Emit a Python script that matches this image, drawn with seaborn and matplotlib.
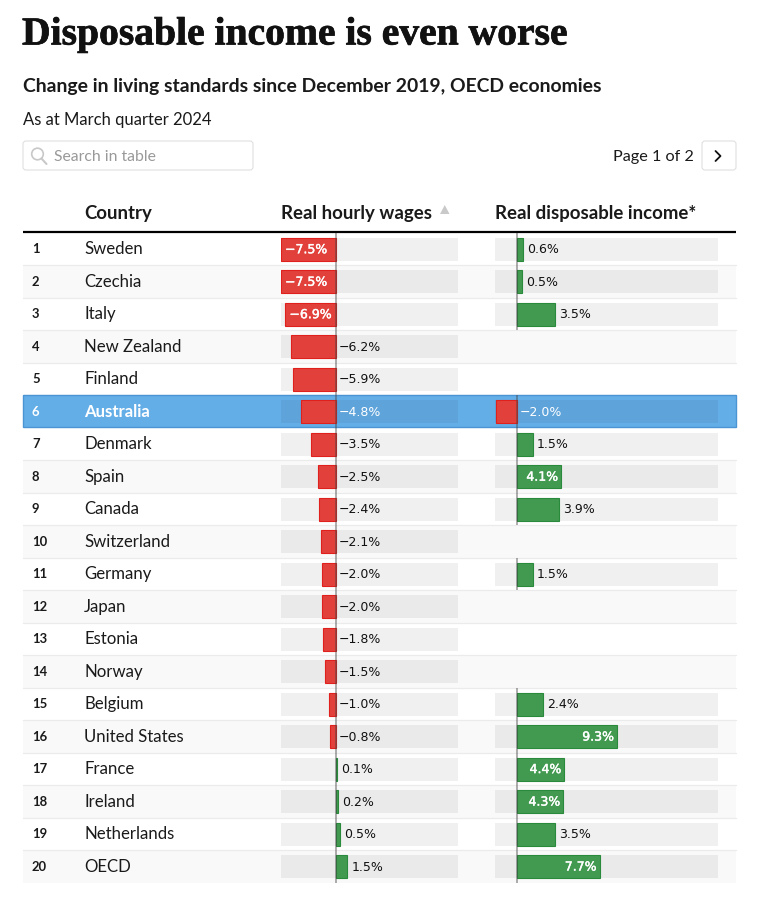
import numpy as np
import pandas as pd
import matplotlib
matplotlib.use("Agg")
import matplotlib.pyplot as plt
import matplotlib.patheffects as pe
from matplotlib.patches import Rectangle, FancyBboxPatch, Circle
import seaborn as sns

countries = ["Sweden", "Czechia", "Italy", "New Zealand", "Finland", "Australia", "Denmark",
             "Spain", "Canada", "Switzerland", "Germany", "Japan", "Estonia", "Norway",
             "Belgium", "United States", "France", "Ireland", "Netherlands", "OECD"]
wages = [-7.5, -7.5, -6.9, -6.2, -5.9, -4.8, -3.5, -2.5, -2.4, -2.1,
         -2.0, -2.0, -1.8, -1.5, -1.0, -0.8, 0.1, 0.2, 0.5, 1.5]
income = [0.6, 0.5, 3.5, np.nan, np.nan, -2.0, 1.5, 4.1, 3.9, np.nan,
          1.5, np.nan, np.nan, np.nan, 2.4, 9.3, 4.4, 4.3, 3.5, 7.7]

W, H = 767, 900
ROW_TOP, ROW_H = 233, 32.49
HIGHLIGHT = "Australia"
TEXT = "#1a1a1a"
RED, RED_EDGE = "#e2413b", "#e0201c"
GREEN, GREEN_EDGE = "#429a50", "#2a8a3c"

sns.set_theme(style="white")
plt.rcParams["font.family"] = ["Lato", "DejaVu Sans"]

df = pd.DataFrame({"country": countries, "wages": wages, "income": income})


def px(size):
    return size * 72 / 100


fig = plt.figure(figsize=(W / 100, H / 100), dpi=100, facecolor="white")

# 背景层，用像素坐标
bg = fig.add_axes([0, 0, 1, 1])
bg.set_xlim(0, W)
bg.set_ylim(H, 0)
bg.axis("off")

title = bg.text(22, 35, "Disposable income is even worse", family="Liberation Serif", weight="bold",
                fontsize=px(39.6), color="#111111", va="center")
title.set_path_effects([pe.withStroke(linewidth=0.5, foreground="#111111")])
bg.text(23, 86.5, "Change in living standards since December 2019, OECD economies", weight="bold",
        fontsize=px(19.4), color=TEXT, va="center")
bg.text(23, 120, "As at March quarter 2024", fontsize=px(16.6), color=TEXT, va="center")

# 搜索框和翻页
bg.add_patch(FancyBboxPatch((23, 141), 230, 29, boxstyle="round,pad=0,rounding_size=3",
                            fc="white", ec="#e0e0e0", lw=0.8))
bg.add_patch(Circle((37.5, 154), 5.8, fc="none", ec="#c8c8c8", lw=1.2))
bg.plot([41.5, 46.5], [158.5, 164], color="#c8c8c8", lw=1.5)
bg.text(54, 157, "Search in table", fontsize=px(15.7), color="#999999", va="center")
bg.text(694, 157, "Page 1 of 2", fontsize=px(16.2), color=TEXT, va="center", ha="right")
bg.add_patch(FancyBboxPatch((702, 141), 34, 29, boxstyle="round,pad=0,rounding_size=3",
                            fc="white", ec="#e0e0e0", lw=0.8))
bg.plot([715.5, 720.5, 715.5], [151, 156, 161], color="#111111", lw=1.3)

# 表头
for x, label in [(84, "Country"), (281, "Real hourly wages"), (495, "Real disposable income*")]:
    bg.text(x, 213, label, weight="bold", fontsize=px(18.7), color=TEXT, va="center")
bg.fill([440, 449.5, 444.75], [214, 214, 205], color="#c9c9c9", lw=0)
bg.plot([23, 736], [232, 232], color="#000000", lw=1.6, solid_capstyle="butt")

# 行背景和文字
for i, name in enumerate(countries):
    top = ROW_TOP + i * ROW_H
    mid = top + ROW_H / 2
    on = name == HIGHLIGHT
    if on:
        bg.add_patch(Rectangle((23, top - 0.5), 713, ROW_H, fc="#64aee8", ec="#4a94d4", lw=1, zorder=2))
    else:
        if i % 2 == 1:
            bg.add_patch(Rectangle((23, top), 713, ROW_H, fc="#f9f9f9", ec="none", zorder=1))
        if i < len(countries) - 1:
            bg.plot([23, 736], [top + ROW_H, top + ROW_H], color="#ebebeb", lw=0.9, zorder=1.5)
    bg.text(32, mid, str(i + 1), weight="bold", fontsize=px(13), va="center",
            color="white" if on else TEXT, zorder=3)
    bg.text(84, mid, name, weight="bold" if on else "normal", fontsize=px(16.8), va="center",
            color="white" if on else TEXT, zorder=3)


def bar_col(col, left, right, xlim, inside):
    ax = fig.add_axes([left / W, 1 - (ROW_TOP + 20 * ROW_H) / H, (right - left) / W, 20 * ROW_H / H])
    ax.patch.set_alpha(0)
    values = df[col].to_numpy()
    has = ~np.isnan(values)
    rows = np.arange(len(values))

    # 灰色底条
    ax.barh(rows[has], xlim[1] - xlim[0], left=xlim[0], height=0.708, color="black", alpha=0.058,
            lw=0, zorder=0.5)

    plot_df = df[has].copy()
    plot_df["sign"] = np.where(plot_df[col] < 0, "neg", "pos")
    sns.barplot(data=plot_df, y="country", x=col, hue="sign", order=countries,
                hue_order=["neg", "pos"], palette={"neg": RED, "pos": GREEN}, dodge=False,
                width=0.708, saturation=1, legend=False, ax=ax, zorder=2)
    for patch in ax.patches:
        c = patch.get_facecolor()
        if c[3] > 0.9 and c[0] > 0.6:
            patch.set_edgecolor(RED_EDGE)
            patch.set_linewidth(0.8)
        elif c[3] > 0.9:
            patch.set_edgecolor(GREEN_EDGE)
            patch.set_linewidth(0.8)

    ax.vlines(np.zeros(has.sum()), rows[has] - 0.5, rows[has] + 0.5, color="#444444", alpha=0.55,
              lw=1.1, zorder=3)

    for i, v in zip(rows[has], values[has]):
        label = f"{v:.1f}%".replace("-", "\u2212")
        on = countries[i] == HIGHLIGHT
        if abs(v) >= inside:
            xy, dx, ha, color = (v, -3, "right", "white") if v > 0 else (v, 4, "left", "white")
        elif v < 0:
            xy, dx, ha, color = (0, 2.5, "left", "white" if on else "#111111")
        else:
            xy, dx, ha, color = (v, 4, "left", "#111111")
        t = ax.annotate(label, (xy, i), xytext=(px(dx), px(-0.5)), textcoords="offset points", ha=ha,
                        va="center", color=color, fontsize=px(12.5),
                        family="DejaVu Sans", zorder=4)
        if color == "white" and not on:
            t.set_path_effects([pe.withStroke(linewidth=0.3, foreground="white")])

    ax.set_xlim(*xlim)
    ax.set_ylim(len(values) - 0.5, -0.5)
    ax.set_xlabel("")
    ax.set_ylabel("")
    ax.set_xticks([])
    ax.set_yticks([])
    sns.despine(ax=ax, left=True, bottom=True)
    return ax


bar_col("wages", 281, 458, (-7.5, 16.5), 6.5)
bar_col("income", 495, 718, (-2.05, 18.7), 4.0)

fig.savefig("out.png", dpi=100)
